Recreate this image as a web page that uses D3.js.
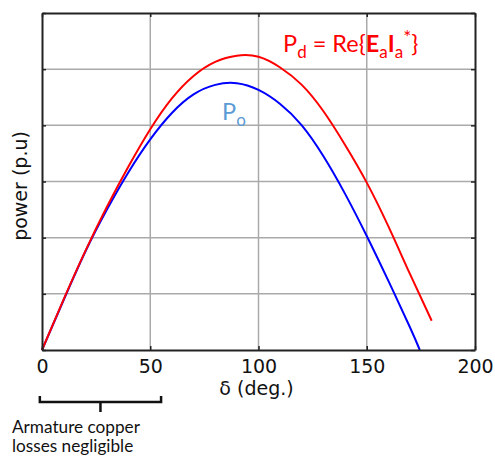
<!DOCTYPE html>
<meta charset="utf-8">
<style>
  body { margin: 0; background: #fff; }
  svg { font-family: "DejaVu Sans", Verdana, sans-serif; }
  .ann { font-family: Lato, "Open Sans", sans-serif; }
</style>
<svg width="495" height="460"></svg>
<script src="https://d3js.org/d3.v7.min.js"></script>
<script>

// load angle (deg.)
var deltaPd = [0, 10, 20, 30, 40, 50, 60, 70, 80, 90, 100, 110, 120, 130, 140, 150, 160, 170, 180];
// developed power Pd = Re{Ea Ia*}
var powerPd = [0, 0.9, 1.76, 2.55, 3.27, 3.93, 4.48, 4.88, 5.13, 5.24, 5.22, 5.03, 4.72, 4.25, 3.65, 2.98, 2.2, 1.35, 0.52];
// output power Po
var deltaPo = [0, 10, 20, 30, 40, 50, 60, 70, 80, 90, 100, 110, 120, 130, 140, 150, 160, 170, 174.5];
var powerPo = [0, 0.89, 1.75, 2.5, 3.17, 3.75, 4.22, 4.55, 4.72, 4.75, 4.63, 4.38, 4.0, 3.45, 2.78, 2.03, 1.23, 0.4, 0];

var xTicks = [0, 50, 100, 150, 200];
var yTicks = [0, 1, 2, 3, 4, 5, 6];

var svg = d3.select("svg");

var x = d3.scaleLinear().domain([0, 200]).range([42, 475]);
var y = d3.scaleLinear().domain([0, 6]).range([350, 13]);

// grid
svg.append("g").selectAll("line")
  .data(xTicks.slice(1, -1))
  .enter().append("line")
    .attr("x1", function(d) { return x(d); })
    .attr("x2", function(d) { return x(d); })
    .attr("y1", y(0)).attr("y2", y(6))
    .style("stroke", "#aaa").style("stroke-width", 1.5);

svg.append("g").selectAll("line")
  .data(yTicks.slice(1, -1))
  .enter().append("line")
    .attr("x1", x(0)).attr("x2", x(200))
    .attr("y1", function(d) { return y(d); })
    .attr("y2", function(d) { return y(d); })
    .style("stroke", "#aaa").style("stroke-width", 1.5);

// curves
var line = d3.line()
  .x(function(d) { return x(d[0]); })
  .y(function(d) { return y(d[1]); })
  .curve(d3.curveNatural);

svg.append("path")
  .datum(d3.zip(deltaPo, powerPo))
  .attr("d", line)
  .style("fill", "none").style("stroke", "#0000ff").style("stroke-width", 2);

svg.append("path")
  .datum(d3.zip(deltaPd, powerPd))
  .attr("d", line)
  .style("fill", "none").style("stroke", "#ff0000").style("stroke-width", 2);

// axes (ticks inside, on all four sides)
var axBottom = svg.append("g")
  .attr("transform", "translate(0," + y(0) + ")")
  .call(d3.axisBottom(x).tickValues(xTicks).tickSizeInner(-4).tickSizeOuter(0).tickPadding(10));
var axTop = svg.append("g")
  .attr("transform", "translate(0," + y(6) + ")")
  .call(d3.axisTop(x).tickValues(xTicks).tickSizeInner(-4).tickSizeOuter(0).tickFormat(""));
var axLeft = svg.append("g")
  .attr("transform", "translate(" + x(0) + ",0)")
  .call(d3.axisLeft(y).tickValues(yTicks).tickSizeInner(-4).tickSizeOuter(0).tickFormat(""));
var axRight = svg.append("g")
  .attr("transform", "translate(" + x(200) + ",0)")
  .call(d3.axisRight(y).tickValues(yTicks).tickSizeInner(-4).tickSizeOuter(0).tickFormat(""));

[axBottom, axTop, axLeft, axRight].forEach(function(g) {
  g.select(".domain").style("stroke", "#222").style("stroke-width", 2);
  g.selectAll(".tick line").style("stroke", "#222").style("stroke-width", 1.5);
});
axBottom.selectAll(".tick text")
  .style("font-family", "DejaVu Sans, Verdana, sans-serif")
  .style("font-size", "19px").style("fill", "#111");

// axis titles
svg.append("text")
  .attr("x", x(100) - 2).attr("y", 395)
  .attr("text-anchor", "middle")
  .style("font-size", "19px").style("fill", "#111")
  .text("\u03b4 (deg.)");

svg.append("text")
  .attr("transform", "translate(27," + 186 + ") rotate(-90)")
  .attr("text-anchor", "middle")
  .style("font-size", "19px").style("fill", "#111")
  .text("power (p.u)");

// curve labels
var pd = svg.append("text").attr("class", "ann")
  .attr("x", 283).attr("y", 51.5)
  .style("font-size", "23.5px").style("fill", "#ff0000");
pd.append("tspan").text("P");
pd.append("tspan").attr("dy", 6).style("font-size", "17px").text("d");
pd.append("tspan").attr("dy", -6).text(" = Re{");
pd.append("tspan").style("font-weight", "bold").text("E");
pd.append("tspan").attr("dy", 6).style("font-size", "17px").text("a");
pd.append("tspan").attr("dy", -6).style("font-weight", "bold").text("I");
pd.append("tspan").attr("dy", 6).style("font-size", "17px").text("a");
pd.append("tspan").attr("dy", -14).style("font-size", "19px").text("*");
pd.append("tspan").attr("dy", 8).text("}");

var po = svg.append("text").attr("class", "ann")
  .attr("x", 222).attr("y", 120)
  .style("font-size", "23.5px").style("fill", "#5b9bd5");
po.append("tspan").text("P");
po.append("tspan").attr("dy", 6).style("font-size", "17px").text("o");

// bracket: armature copper losses negligible
var bx0 = x(-1), bx1 = x(55), bxm = (bx0 + bx1) / 2;
svg.append("path")
  .attr("d", "M" + bx0 + ",396V402H" + bx1 + "V396M" + bxm + ",402V412")
  .style("fill", "none").style("stroke", "#111").style("stroke-width", 2.5);

svg.append("text").attr("class", "ann")
  .attr("x", 12).attr("y", 433)
  .style("font-size", "17.2px").style("fill", "#111")
  .text("Armature copper");
svg.append("text").attr("class", "ann")
  .attr("x", 12).attr("y", 452)
  .style("font-size", "17.2px").style("fill", "#111")
  .text("losses negligible");

</script>
